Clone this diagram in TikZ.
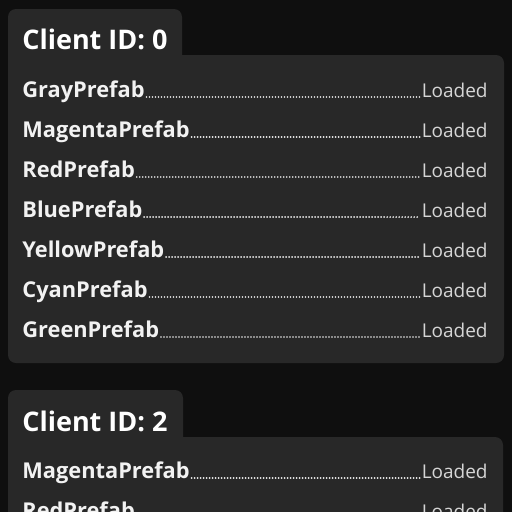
\documentclass[tikz,border=0pt]{standalone}
\usepackage{fontspec}
\setmainfont{Open Sans}
\definecolor{bgdark}{HTML}{0F0F0F}
\definecolor{panelgray}{HTML}{282828}
\definecolor{labelwhite}{HTML}{F2F2F2}
\definecolor{statusgray}{HTML}{D6D6D6}
\tikzset{every picture/.style={line width=0.75pt}}
\tikzset{
  header/.style={anchor=base west,inner sep=0pt,text=white,font=\fontsize{27}{30}\selectfont\bfseries},
  prefab/.style={anchor=base west,inner sep=0pt,text=labelwhite,font=\fontsize{21.8}{24}\selectfont\bfseries},
  status/.style={anchor=base east,inner sep=0pt,text=statusgray,font=\fontsize{19}{22}\selectfont},
  leader/.style={draw=labelwhite,line width=1.9pt,line cap=round,dash pattern=on 0pt off 3pt,shorten <=1.5pt,shorten >=1.5pt}
}

\begin{document}
\begin{tikzpicture}[x=1pt,y=1pt,yscale=-1,xscale=1]
\useasboundingbox (0,0) rectangle (512,512);
\clip (0,0) rectangle (512,512);
\fill [bgdark] (0,0) rectangle (512,512);

%Panel client 0
\fill [panelgray] (8,55) -- (8,17) arc (180:270:8) -- (174,9) arc (270:360:8) -- (182,55) -- (496,55) arc (270:360:8) -- (504,355) arc (0:90:8) -- (16,363) arc (90:180:8) -- cycle ;
%Panel client 2
\fill [panelgray] (8,437) -- (8,398) arc (180:270:8) -- (175,390) arc (270:360:8) -- (183,437) -- (495,437) arc (270:360:8) -- (503,560) -- (8,560) -- cycle ;

% Text Node
\node [header] (head0) at (22,49) {Client ID: 0};
% Text Node
\node [prefab] (gray) at (22,97) {GrayPrefab};
\node [status] (grayL) at (488,97) {Loaded};
% Text Node
\node [prefab] (magenta) at (22,137) {MagentaPrefab};
\node [status] (magentaL) at (488,137) {Loaded};
% Text Node
\node [prefab] (red) at (22,177) {RedPrefab};
\node [status] (redL) at (488,177) {Loaded};
% Text Node
\node [prefab] (blue) at (22,217) {BluePrefab};
\node [status] (blueL) at (488,217) {Loaded};
% Text Node
\node [prefab] (yellow) at (22,257) {YellowPrefab};
\node [status] (yellowL) at (488,257) {Loaded};
% Text Node
\node [prefab] (cyan) at (22,297) {CyanPrefab};
\node [status] (cyanL) at (488,297) {Loaded};
% Text Node
\node [prefab] (green) at (22,337) {GreenPrefab};
\node [status] (greenL) at (488,337) {Loaded};

% Text Node
\node [header] (head2) at (22,431) {Client ID: 2};
% Text Node
\node [prefab] (magentaB) at (22,478) {MagentaPrefab};
\node [status] (magentaBL) at (488,478) {Loaded};
% Text Node
\node [prefab] (redB) at (22,518) {RedPrefab};
\node [status] (redBL) at (488,518) {Loaded};

%Leaders
\draw [leader] (gray.base east) -- (grayL.base west) ;
\draw [leader] (magenta.base east) -- (magentaL.base west) ;
\draw [leader] (red.base east) -- (redL.base west) ;
\draw [leader] (blue.base east) -- (blueL.base west) ;
\draw [leader] (yellow.base east) -- (yellowL.base west) ;
\draw [leader] (cyan.base east) -- (cyanL.base west) ;
\draw [leader] (green.base east) -- (greenL.base west) ;
\draw [leader] (magentaB.base east) -- (magentaBL.base west) ;
\draw [leader] (redB.base east) -- (redBL.base west) ;

\end{tikzpicture}
\end{document}
